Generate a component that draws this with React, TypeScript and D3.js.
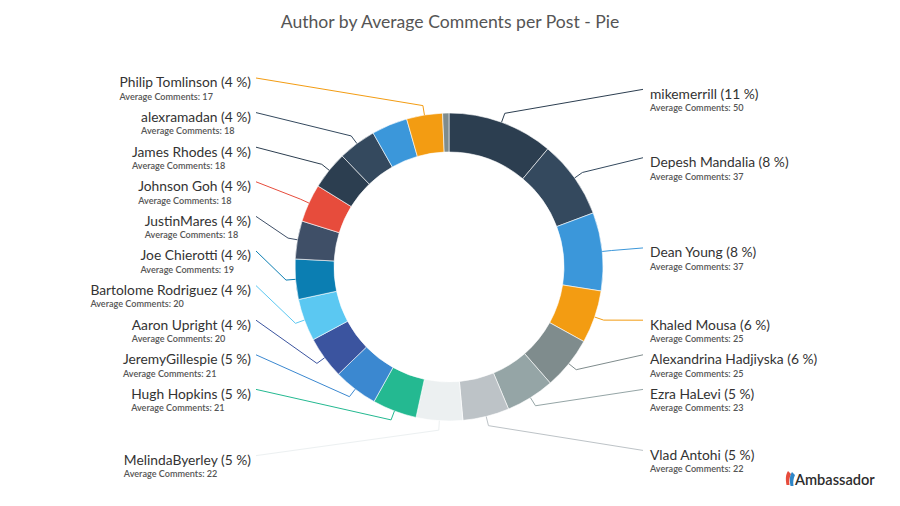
import React, { useEffect, useRef } from 'react';
import * as d3 from 'd3';

const chartTitle = 'Author by Average Comments per Post - Pie';
const authors = [
  'mikemerrill', 'Depesh Mandalia', 'Dean Young', 'Khaled Mousa', 'Alexandrina Hadjiyska',
  'Ezra HaLevi', 'Vlad Antohi', 'MelindaByerley', 'Hugh Hopkins', 'JeremyGillespie',
  'Aaron Upright', 'Bartolome Rodriguez', 'Joe Chierotti', 'JustinMares', 'Johnson Goh',
  'James Rhodes', 'alexramadan', '', 'Philip Tomlinson', '',
];
const avgComments = [50, 37, 37, 25, 25, 23, 22, 22, 21, 21, 20, 20, 19, 18, 18, 18, 18, 17, 17, 3];
const palette = [
  '#2c3e50', '#34495e', '#3b97da', '#f39c12', '#7f8c8d', '#95a5a6', '#bdc3c7', '#ecf0f1',
  '#24b991', '#3b88d0', '#3b549f', '#5bc8f2', '#0b7eb2', '#3f4f67', '#e74c3c',
];
const subPrefix = 'Average Comments: ';
const brandName = 'Ambassador';

const W = 900;
const H = 506;

export default function App() {
  const ref = useRef<SVGSVGElement | null>(null);

  useEffect(() => {
    const svg = d3.select(ref.current);
    svg.selectAll('*').remove();

    const cx = 449, cy = 267, R = 154, R0 = 115;
    const distance = 35, slotH = 34.6, crook = 9.5;
    const font = 'Lato, "Open Sans", sans-serif';

    svg.append('text')
      .attr('x', 450).attr('y', 28)
      .attr('text-anchor', 'middle')
      .attr('font-family', font)
      .attr('font-size', 17.6)
      .attr('fill', '#555')
      .text(chartTitle);

    const total = d3.sum(avgComments);
    const arcs = d3.pie<number>().sort(null).value(d => d)(avgComments);
    const arcGen = d3.arc<d3.PieArcDatum<number>>().innerRadius(R0).outerRadius(R);

    const g = svg.append('g').attr('transform', `translate(${cx},${cy})`);
    g.selectAll('path.slice')
      .data(arcs)
      .join('path')
      .attr('class', 'slice')
      .attr('d', arcGen as any)
      .attr('fill', (_, i) => palette[i % palette.length])
      .attr('stroke', '#fff')
      .attr('stroke-width', 0.6);

    type Item = { i: number; name: string; value: number; mid: number; natY: number; y?: number };
    const items: Item[] = arcs.map((a, i) => {
      const mid = (a.startAngle + a.endAngle) / 2;
      return { i, name: authors[i], value: avgComments[i], mid, natY: cy - (R + distance) * Math.cos(mid) };
    }).filter(it => it.name !== '');

    const halves = [
      items.filter(it => it.mid < Math.PI),
      items.filter(it => it.mid >= Math.PI).reverse(),
    ];

    halves.forEach((pts0, side) => {
      let pts = pts0.slice();
      const slots: (number | null)[] = [];
      const bottom = Math.min(cy + R + distance, H);
      for (let pos = cy - R - distance; pos <= bottom + 1e-6; pos += slotH) slots.push(pos);
      const slotsLength = slots.length;
      if (pts.length > slotsLength) {
        const ranked = pts.slice().sort((a, b) => b.value - a.value);
        const keep = new Set(ranked.slice(0, slotsLength));
        pts = pts.filter(p => keep.has(p));
      }
      const length = pts.length;
      const used: { i: number; y: number }[] = [];
      for (let j = 0; j < length; j++) {
        const p = pts[j];
        let closest = 9999, slotIndex = 0;
        for (let s = 0; s < slotsLength; s++) {
          const d = Math.abs((slots[s] as number) - p.natY);
          if (slots[s] !== null && d < closest) { closest = d; slotIndex = s; }
        }
        if (slotIndex < j && slots[j] !== null) {
          slotIndex = j;
        } else if (slotsLength < length - j + slotIndex && slots[j] !== null) {
          slotIndex = slotsLength - length + j;
          while (slots[slotIndex] === null) slotIndex++;
        } else {
          while (slots[slotIndex] === null) slotIndex++;
        }
        used.push({ i: slotIndex, y: slots[slotIndex] as number });
        slots[slotIndex] = null;
      }
      used.sort((a, b) => b.y - a.y);
      for (let j = 0; j < length; j++) {
        const p = pts[j];
        const s = used.pop()!;
        let y = s.y;
        if ((p.natY > y && slots[s.i + 1] !== null) || (p.natY < y && slots[s.i - 1] !== null)) {
          y = p.natY;
        }
        p.y = y;
      }

      const lg = svg.append('g');
      pts.forEach(p => {
        const color = palette[p.i % palette.length];
        const sx = Math.sin(p.mid), sy = -Math.cos(p.mid);
        const base: [number, number] = [cx + R * sx, cy + R * sy];
        const brk: [number, number] = [cx + (R + crook) * sx, cy + (R + crook) * sy];
        const endX = side === 0 ? 643 : 256;
        const line = d3.line();
        lg.append('path')
          .attr('d', line([base, brk, [endX, p.y!]]))
          .attr('fill', 'none')
          .attr('stroke', color)
          .attr('stroke-width', 1);

        const pct = Math.round((p.value / total) * 100);
        const name = lg.append('text')
          .attr('font-family', font)
          .attr('font-size', 13.8)
          .attr('fill', '#333')
          .attr('y', p.y! + 9.3)
          .text(`${p.name} (${pct} %)`);
        const sub = lg.append('text')
          .attr('font-family', font)
          .attr('font-size', 9.1)
          .attr('font-weight', 600)
          .attr('fill', '#555')
          .attr('y', p.y! + 21.8)
          .text(`${subPrefix}${p.value}`);
        if (side === 0) {
          name.attr('x', 650);
          sub.attr('x', 650);
        } else {
          const wN = (name.node() as SVGTextElement).getComputedTextLength();
          const wS = (sub.node() as SVGTextElement).getComputedTextLength();
          const w = Math.max(wN, wS);
          name.attr('x', 251 - w);
          sub.attr('x', 251 - w);
        }
      });
    });

    // brand logo
    const logo = svg.append('g').attr('transform', 'translate(785,471)');
    logo.append('path')
      .attr('d', 'M3,0 C0.5,4 0.5,8 1.5,14 L4.5,14 C3.8,10 4.5,6 6,3 Z')
      .attr('fill', '#e74c3c');
    logo.append('path')
      .attr('d', 'M7,1 C4.5,5 4.5,9 5.5,15 L8.5,15 C7.8,11 8.5,7 10,4 Z')
      .attr('fill', '#2e86c8');
    logo.append('text')
      .attr('x', 10).attr('y', 13.5)
      .attr('font-family', font)
      .attr('font-size', 14.6)
      .attr('font-weight', 600)
      .attr('fill', '#2d2d2d')
      .text(brandName);
  }, []);

  return (
    <svg
      ref={ref}
      width={W}
      height={H}
      style={{ position: 'absolute', left: 0, top: 0, background: '#fff' }}
    />
  );
}
